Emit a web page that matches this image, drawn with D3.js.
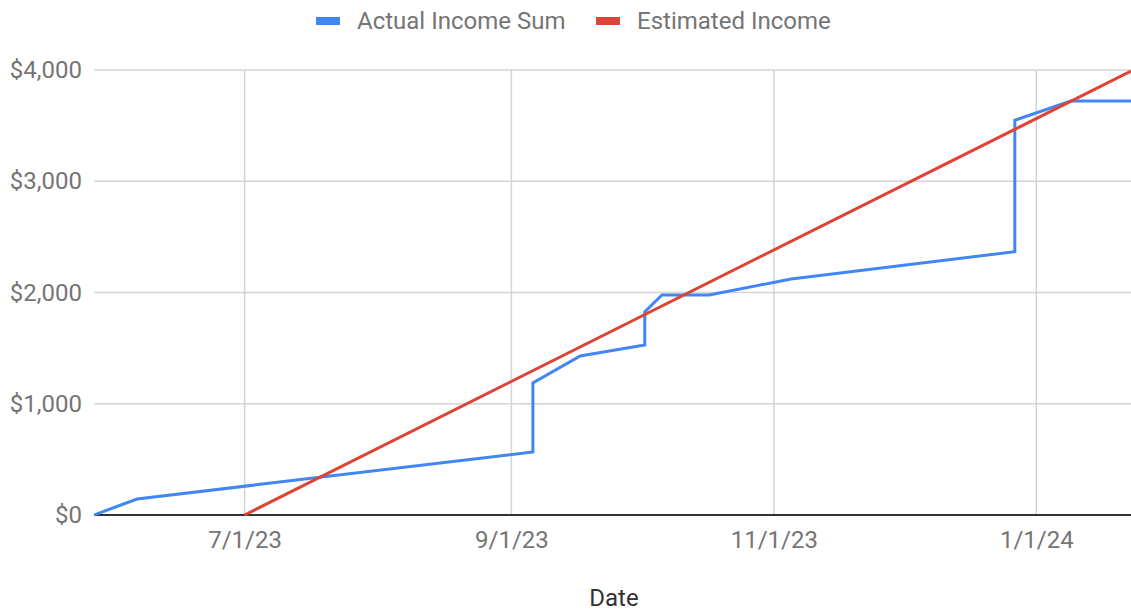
<!DOCTYPE html>
<html>
<head>
<meta charset="utf-8">
<script src="https://cdn.jsdelivr.net/npm/d3@7"></script>
<style>
  body { margin: 0; background: #fff; }
  text { font-family: Roboto, sans-serif; }
</style>
</head>
<body>
<div id="canvas"></div>
<script>
// actual income, cumulative (same date twice = a step)
const actualDates = ["2023-05-27", "2023-06-06", "2023-09-06", "2023-09-06", "2023-09-17",
  "2023-10-02", "2023-10-02", "2023-10-06", "2023-10-17", "2023-11-05",
  "2023-12-27", "2023-12-27", "2024-01-09", "2024-01-23"];
const actualValues = [0, 144, 566, 1187, 1429, 1528, 1825, 1978, 1978, 2121, 2367, 3548, 3721, 3721];

const estimatedDates = ["2023-07-01", "2024-01-23"];
const estimatedValues = [0, 3990];

const xTicks = ["2023-07-01", "2023-09-01", "2023-11-01", "2024-01-01"];
const yTicks = [0, 1000, 2000, 3000, 4000];

const seriesNames = ["Actual Income Sum", "Estimated Income"];
const colors = ["#4285f4", "#db4437"];

const width = 1131;
const height = 612;
const margin = {top: 70, left: 94, bottom: 97, right: 0};

const parse = d3.timeParse("%Y-%m-%d");
const fmtDate = d3.timeFormat("%-m/%-d/%y");
const fmtMoney = v => "$" + d3.format(",")(v);

const svg = d3.select("#canvas").append("svg")
    .attr("width", width)
    .attr("height", height);

let x = d3.scaleTime()
    .domain([parse("2023-05-27"), parse("2024-01-23")])
    .range([margin.left, width - margin.right]);
let y = d3.scaleLinear()
    .domain([0, 4000])
    .range([height - margin.bottom, margin.top]);

// gridlines
svg.append("g")
    .selectAll("line.h")
    .data(yTicks.filter(d => d > 0))
    .enter().append("line")
    .attr("x1", margin.left).attr("x2", width)
    .attr("y1", d => y(d)).attr("y2", d => y(d))
    .style("stroke", "#d4d4d4").style("stroke-width", 1.5);

svg.append("g")
    .selectAll("line.v")
    .data(xTicks)
    .enter().append("line")
    .attr("x1", d => x(parse(d))).attr("x2", d => x(parse(d)))
    .attr("y1", y(4000)).attr("y2", y(0))
    .style("stroke", "#d4d4d4").style("stroke-width", 1.5);

// y axis labels
const yAxis = svg.append("g")
    .attr("transform", `translate(${margin.left - 12},0)`)
    .call(d3.axisLeft(y).tickValues(yTicks).tickFormat(fmtMoney).tickSize(0).tickPadding(0));
yAxis.select(".domain").remove();
yAxis.selectAll("text")
    .style("font-size", "24px")
    .style("fill", "#757575")
    .style("font-family", "Roboto, sans-serif");

// x axis labels
const xAxis = svg.append("g")
    .attr("transform", `translate(0,${y(0)})`)
    .call(d3.axisBottom(x).tickValues(xTicks.map(parse)).tickFormat(fmtDate).tickSize(0).tickPadding(16));
xAxis.select(".domain").remove();
xAxis.selectAll("text")
    .style("font-size", "24px")
    .style("fill", "#757575")
    .style("font-family", "Roboto, sans-serif");

// baseline
svg.append("line")
    .attr("x1", margin.left).attr("x2", width)
    .attr("y1", y(0)).attr("y2", y(0))
    .style("stroke", "#333").style("stroke-width", 2);

// lines
svg.append("clipPath").attr("id", "clip")
    .append("rect")
    .attr("x", margin.left).attr("y", margin.top - 3)
    .attr("width", width - margin.left).attr("height", y(0) - margin.top + 4);

const line = d3.line().x(d => x(d[0])).y(d => y(d[1]));

const series = [
  actualDates.map((d, i) => [parse(d), actualValues[i]]),
  estimatedDates.map((d, i) => [parse(d), estimatedValues[i]])
];

svg.append("g").attr("clip-path", "url(#clip)")
    .selectAll("path")
    .data(series)
    .enter().append("path")
    .attr("d", line)
    .style("fill", "none")
    .style("stroke", (d, i) => colors[i])
    .style("stroke-width", 3)
    .style("stroke-linejoin", "miter");

// x axis title
svg.append("text")
    .attr("x", 614).attr("y", 606)
    .attr("text-anchor", "middle")
    .style("font-size", "24px")
    .style("fill", "#333")
    .text("Date");

// legend
const legendX = [316, 596];
const legend = svg.append("g").selectAll("g")
    .data(seriesNames)
    .enter().append("g")
    .attr("transform", (d, i) => `translate(${legendX[i]},0)`);
legend.append("rect")
    .attr("x", 0).attr("y", 17)
    .attr("width", 24).attr("height", 8)
    .style("fill", (d, i) => colors[i]);
legend.append("text")
    .attr("x", 41).attr("y", 29)
    .style("font-size", "24px")
    .style("fill", "#757575")
    .text(d => d);
</script>
</body>
</html>
